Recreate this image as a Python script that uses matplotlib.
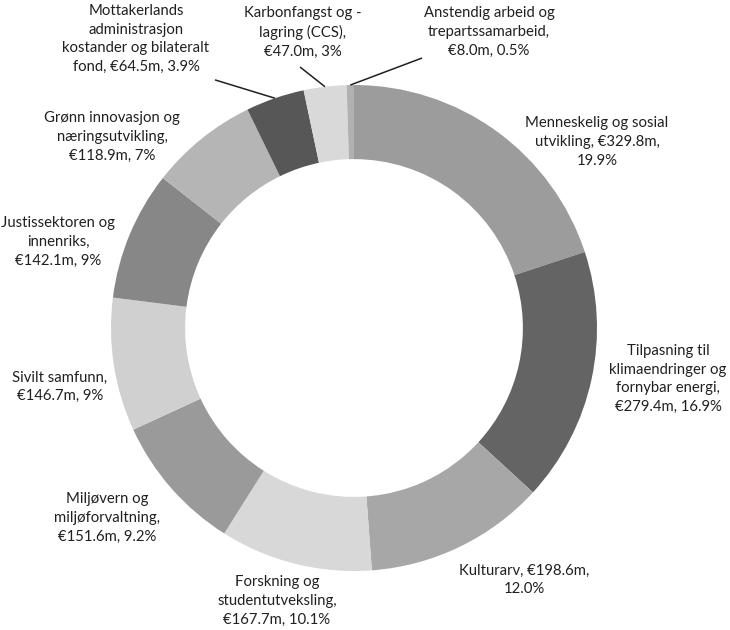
import numpy as np
import matplotlib
matplotlib.use("Agg")
import matplotlib.pyplot as plt

plt.rcParams["font.family"] = ["Lato", "DejaVu Sans"]

# data
labels = [
    "Menneskelig og sosial\nutvikling, €329.8m,\n19.9%",
    "Tilpasning til\nklimaendringer og\nfornybar energi,\n€279.4m, 16.9%",
    "Kulturarv, €198.6m,\n12.0%",
    "Forskning og\nstudentutveksling,\n€167.7m, 10.1%",
    "Miljøvern og\nmiljøforvaltning,\n€151.6m, 9.2%",
    "Sivilt samfunn,\n€146.7m, 9%",
    "Justissektoren og\ninnenriks,\n€142.1m, 9%",
    "Grønn innovasjon og\nnæringsutvikling,\n€118.9m, 7%",
    "Mottakerlands\nadministrasjon\nkostander og bilateralt\nfond, €64.5m, 3.9%",
    "Karbonfangst og -\nlagring (CCS),\n€47.0m, 3%",
    "Anstendig arbeid og\ntrepartssamarbeid,\n€8.0m, 0.5%",
]
values = [329.8, 279.4, 198.6, 167.7, 151.6, 146.7, 142.1, 118.9, 64.5, 47.0, 8.0]

colors = ["#9c9c9c", "#646464", "#a7a7a7", "#d8d8d8", "#9a9a9a", "#d0d0d0",
          "#878787", "#b5b5b5", "#575757", "#d9d9d9", "#b1b1b1"]

# label block centres (in pie radius units) and leader line starts
label_pos = [(1.0, 0.765), (1.292, -0.21), (0.70, -1.037), (-0.317, -1.123),
             (-1.016, -0.782), (-1.21, -0.243), (-1.218, 0.354), (-0.996, 0.786),
             (-0.897, 1.189), (-0.21, 1.218), (0.556, 1.218)]
leaders = {8: (-0.572, 1.021), 9: (-0.222, 1.074), 10: (0.28, 1.111)}

fig = plt.figure(figsize=(7.3, 6.3), dpi=100)
ax = fig.add_axes([0, 0, 1, 1])

wedges, _ = ax.pie(values, colors=colors, startangle=90, counterclock=False,
                   radius=1.0, wedgeprops=dict(width=0.305, linewidth=0))

for i, w in enumerate(wedges):
    x, y = label_pos[i]
    ax.text(x, y, labels[i], ha="center", va="center", fontsize=10.7,
            color="#231f20", linespacing=1.42)
    if i in leaders:
        mid = np.deg2rad((w.theta1 + w.theta2) / 2)
        sx, sy = leaders[i]
        ax.plot([sx, np.cos(mid)], [sy, np.sin(mid)], color="#231f20", lw=1.1,
                solid_capstyle="butt")

ax.set_xlim(-354 / 243, (730 - 354) / 243)
ax.set_ylim((328 - 630) / 243, 328 / 243)
ax.set_aspect("auto")
ax.axis("off")

fig.savefig("out.png", dpi=100)
